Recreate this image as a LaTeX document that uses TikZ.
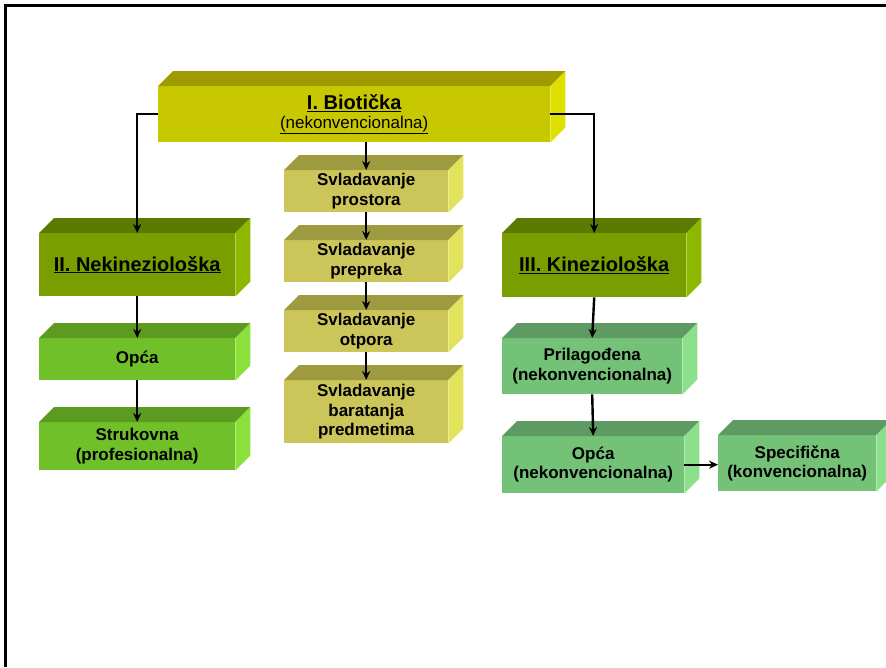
\documentclass[tikz,border=0pt]{standalone}
\usepackage{fontspec}
\setmainfont{Liberation Sans}
\usetikzlibrary{arrows.meta}
\definecolor{bioF}{HTML}{C8C800}\definecolor{bioT}{HTML}{9E9A00}\definecolor{bioS}{HTML}{E0E000}
\definecolor{svF}{HTML}{CCC65A}\definecolor{svT}{HTML}{9E9A40}\definecolor{svS}{HTML}{E2E25C}
\definecolor{nkF}{HTML}{7A9E00}\definecolor{nkT}{HTML}{5B7A00}\definecolor{nkS}{HTML}{8CB800}
\definecolor{opF}{HTML}{70C02A}\definecolor{opT}{HTML}{5C9A20}\definecolor{opS}{HTML}{8CE03C}
\definecolor{kgF}{HTML}{74C278}\definecolor{kgT}{HTML}{5E9A62}\definecolor{kgS}{HTML}{8CE08C}
\tikzset{
  front/.style={inner sep=0pt, anchor=north west, align=center, font=\bfseries\fontsize{17}{19.5}\selectfont},
  conn/.style={line width=2.4pt, -{Stealth[length=9pt,width=8pt]}}
}
\newcommand{\cubebox}[9]{%
  \node[front, fill=#6, minimum width=#4-#2, minimum height=#5-#3] (#1) at (#2,#3) {#9};
  \fill[#7] (#1.north west) -- ([shift={(15,-15)}]#1.north west) -- ([shift={(15,-15)}]#1.north east) -- (#1.north east) -- cycle;
  \fill[#8] (#1.north east) -- ([shift={(15,-15)}]#1.north east) -- ([shift={(15,-15)}]#1.south east) -- (#1.south east) -- cycle;
}
\begin{document}
\begin{tikzpicture}[x=1pt,y=-1pt]
\useasboundingbox (0,0) rectangle (886,667);
\draw[line width=3pt] (5,667) -- (5,5) -- (886,5);
% top
\cubebox{bio}{158}{86}{550}{142}{bioF}{bioT}{bioS}{\fontsize{20}{23}\selectfont\underline{I. Biotička}\\\mdseries\underline{(nekonvencionalna)}}
% middle column
\cubebox{sva}{284}{170}{448}{212}{svF}{svT}{svS}{Svladavanje\\prostora}
\cubebox{svb}{284}{240}{448}{282}{svF}{svT}{svS}{Svladavanje\\prepreka}
\cubebox{svc}{284}{310}{448}{352}{svF}{svT}{svS}{Svladavanje\\otpora}
\cubebox{svd}{284}{380}{448}{443}{svF}{svT}{svS}{Svladavanje\\baratanja\\predmetima}
% left column
\cubebox{nek}{39}{233}{235}{296}{nkF}{nkT}{nkS}{\fontsize{20}{23}\selectfont\underline{II. Nekineziološka}}
\cubebox{opl}{39}{338}{235}{380}{opF}{opT}{opS}{Opća}
\cubebox{str}{39}{422}{235}{470}{opF}{opT}{opS}{Strukovna\\(profesionalna)}
% right column
\cubebox{kin}{502}{233}{686}{297}{nkF}{nkT}{nkS}{\fontsize{20}{23}\selectfont\underline{III. Kineziološka}}
\cubebox{pri}{502}{338}{682}{394}{kgF}{kgT}{kgS}{Prilagođena\\(nekonvencionalna)}
\cubebox{opk}{502}{436}{684}{493}{kgF}{kgT}{kgS}{Opća\\(nekonvencionalna)}
\cubebox{spe}{718}{435}{876}{491}{kgF}{kgT}{kgS}{Specifična\\(konvencionalna)}
% connectors
\draw[conn] (bio.west) -| (nek.north);
\draw[conn] (bio.east) -| (kin.north);
\draw[conn] (sva.north |- bio.south) -- (sva.north);
\draw[conn] (sva.south) -- (svb.north);
\draw[conn] (svb.south) -- (svc.north);
\draw[conn] (svc.south) -- (svd.north);
\draw[conn] (nek.south) -- (opl.north);
\draw[conn] (opl.south) -- (str.north);
\draw[conn] (kin.south) -- (pri.north);
\draw[conn] (pri.south) -- (opk.north);
\draw[conn] (opk.east) -- (opk.east -| spe.west);
\end{tikzpicture}
\end{document}
